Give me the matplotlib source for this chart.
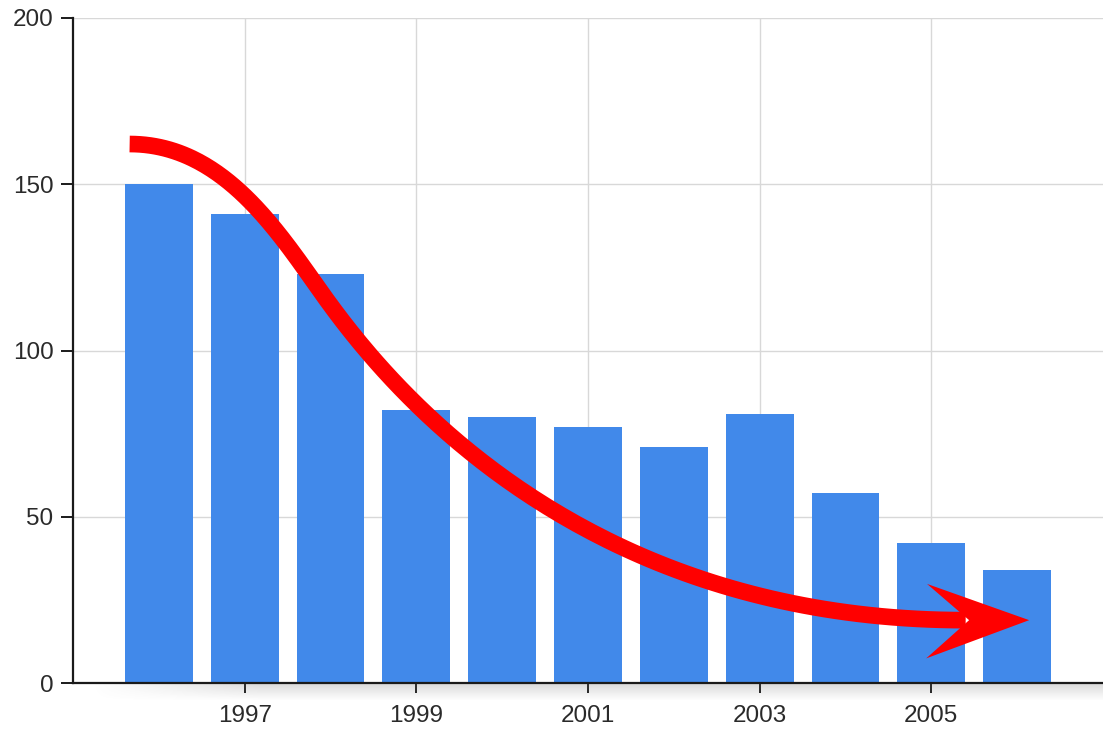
import numpy as np
import matplotlib
matplotlib.use("Agg")
import matplotlib.pyplot as plt
from matplotlib.patches import Polygon

# ---- data ----
years = [1996, 1997, 1998, 1999, 2000, 2001, 2002, 2003, 2004, 2005, 2006]
values = [150, 141, 123, 82, 80, 77, 71, 81, 57, 42, 34]
x_ticks = [1997, 1999, 2001, 2003, 2005]
y_ticks = [0, 50, 100, 150, 200]

# trend arrow annotation: two cubic Bezier segments (data coordinates)
seg1 = [(1995.66, 162.1), (1996.68, 162.1), (1997.31, 138.9), (1997.84, 119.4)]
seg2 = [(1997.84, 119.4), (1998.38, 99.8), (2000.58, 18.9), (2005.40, 18.9)]
head_x = [2006.14, 2004.95, 2005.44, 2004.94]
head_y = [18.9, 29.8, 18.9, 7.4]

BAR = "#4189EA"
plt.rcParams['font.family'] = ['Liberation Sans', 'DejaVu Sans']

fig = plt.figure(figsize=(11.03, 7.31), dpi=100)
ax = fig.add_axes([73/1103, (731-683)/731, (1103-73)/1103, 665/731])

ax.bar(years, values, width=0.79, color=BAR, zorder=2)

ax.set_xticks(x_ticks)
ax.set_yticks(y_ticks)
ax.grid(True, color="#d8d8d8", linewidth=1.0, zorder=0)
ax.set_axisbelow(True)

for s in ["top", "right"]:
    ax.spines[s].set_visible(False)
for s in ["left", "bottom"]:
    ax.spines[s].set_color("#1a1a1a")
    ax.spines[s].set_linewidth(1.6)
    ax.spines[s].set_zorder(4)

ax.tick_params(axis="y", direction="out", length=9, width=1.4, color="#1a1a1a",
               labelsize=17.5, labelcolor="#2a2a2a", pad=5)
ax.tick_params(axis="x", direction="out", length=7, width=1.4, color="#1a1a1a",
               labelsize=17.5, labelcolor="#2a2a2a", pad=9)

# shadow below x axis
grad = np.linspace(0.28, 0.0, 20)[:, None] * np.ones((1, 200))
fade = np.clip(np.linspace(0, 6, 200), 0, 1)[None, :]
rgba = np.zeros((20, 200, 4))
rgba[..., :3] = 0.45
rgba[..., 3] = grad * fade
ax.imshow(rgba, extent=[1995.2, 2007.0, -5.5, 0], aspect="auto",
          clip_on=False, zorder=1, interpolation="bilinear", origin="upper")
ax.set_xlim(1995.0, 2007.0)
ax.set_ylim(0, 200)


def bezier(ctrl, n=100):
    c = np.array(ctrl, dtype=float)
    t = np.linspace(0, 1, n)[:, None]
    return ((1 - t) ** 3 * c[0] + 3 * (1 - t) ** 2 * t * c[1]
            + 3 * (1 - t) * t ** 2 * c[2] + t ** 3 * c[3])


curve = np.vstack([bezier(seg1), bezier(seg2)[1:]])
ax.plot(curve[:, 0], curve[:, 1], color="#ff0000", linewidth=12,
        solid_capstyle="butt", solid_joinstyle="round", zorder=5, clip_on=False)
ax.add_patch(Polygon(np.column_stack([head_x, head_y]), closed=True,
                     facecolor="#ff0000", edgecolor="none", zorder=6, clip_on=False))

fig.savefig("out.png", dpi=100)
